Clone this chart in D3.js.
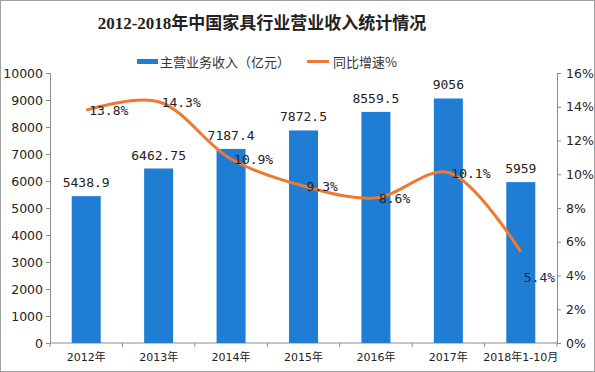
<!DOCTYPE html>
<html>
<head>
<meta charset="utf-8">
<script src="https://cdn.jsdelivr.net/npm/d3@7"></script>
<style>
  body { margin: 0; background: #fff; }
  svg { display: block; }
</style>
</head>
<body>
<div id="chart"></div>
<script>
// Data
const years = ["2012年", "2013年", "2014年", "2015年", "2016年", "2017年", "2018年1-10月"];
const revenue = [5438.9, 6462.75, 7187.4, 7872.5, 8559.5, 9056, 5959];
const revenueLabels = ["5438.9", "6462.75", "7187.4", "7872.5", "8559.5", "9056", "5959"];
const growth = [13.8, 14.3, 10.9, 9.3, 8.6, 10.1, 5.4];
const growthLabels = ["13.8%", "14.3%", "10.9%", "9.3%", "8.6%", "10.1%", "5.4%"];
const leftTicks = [0, 1000, 2000, 3000, 4000, 5000, 6000, 7000, 8000, 9000, 10000];
const rightTicks = [0, 2, 4, 6, 8, 10, 12, 14, 16];

// Dimensions
const width = 595, height = 372;
const margin = {top: 73, right: 38, bottom: 29, left: 50};
const innerW = width - margin.left - margin.right;
const innerH = height - margin.top - margin.bottom;

const svg = d3.select("#chart").append("svg")
  .attr("width", width)
  .attr("height", height);

// frame
svg.append("rect")
  .attr("x", 0.5).attr("y", 0.5)
  .attr("width", width - 1).attr("height", height - 1)
  .attr("fill", "#fff").attr("stroke", "#a0a0a0");

// Title
svg.append("text")
  .attr("x", 262).attr("y", 29)
  .attr("text-anchor", "middle")
  .style("font-family", "'Liberation Serif', 'Noto Sans CJK SC', serif")
  .style("font-weight", "bold")
  .style("font-size", "17px")
  .attr("fill", "#222")
  .text("2012-2018年中国家具行业营业收入统计情况");

// Legend
const legend = svg.append("g").style("font-family", "'Noto Sans CJK SC', sans-serif").style("font-size", "13px");
legend.append("rect").attr("x", 137).attr("y", 59).attr("width", 21).attr("height", 5).attr("fill", "#1f7dd3");
legend.append("text").attr("x", 160).attr("y", 66.5).attr("fill", "#333").text("主营业务收入（亿元）");
legend.append("line").attr("x1", 307).attr("x2", 329).attr("y1", 61.5).attr("y2", 61.5)
  .attr("stroke", "#ec7a32").attr("stroke-width", 3);
legend.append("text").attr("x", 333).attr("y", 66.5).attr("fill", "#333").text("同比增速%");

const g = svg.append("g").attr("transform", `translate(${margin.left},${margin.top})`);

// Scales
const x = d3.scaleBand().domain(years).range([0, innerW]);
const y = d3.scaleLinear().domain([0, 10000]).range([innerH, 0]);
const y2 = d3.scaleLinear().domain([0, 16]).range([innerH, 0]);

// Axes
const axisColor = "#8c8c8c";
const leftAxis = g.append("g")
  .call(d3.axisLeft(y).tickValues(leftTicks).tickSize(4).tickPadding(3).tickFormat(d3.format("d")));
const rightAxis = g.append("g")
  .attr("transform", `translate(${innerW},0)`)
  .call(d3.axisRight(y2).tickValues(rightTicks).tickSize(4).tickPadding(5).tickFormat(d => d + "%"));
[leftAxis, rightAxis].forEach(a => {
  a.select(".domain").attr("stroke", axisColor);
  a.selectAll(".tick line").attr("stroke", axisColor);
  a.selectAll("text").attr("fill", "#222")
    .style("font-family", "'DejaVu Sans', sans-serif").style("font-size", "12.5px");
});

// bottom axis: ticks at band boundaries
const bottom = g.append("g").attr("transform", `translate(0,${innerH})`);
bottom.append("line").attr("x1", 0).attr("x2", innerW).attr("stroke", axisColor);
bottom.selectAll(".bt").data(d3.range(years.length + 1)).join("line")
  .attr("x1", i => i * x.step()).attr("x2", i => i * x.step())
  .attr("y1", 0).attr("y2", 4).attr("stroke", axisColor);
bottom.selectAll(".bl").data(years).join("text")
  .attr("x", d => x(d) + x.bandwidth() / 2)
  .attr("y", 18)
  .attr("text-anchor", "middle")
  .style("font-family", "'DejaVu Sans', 'Noto Sans CJK SC', sans-serif")
  .style("font-size", "11px")
  .attr("fill", "#222")
  .text(d => d);

// Bars
const barW = 29;
g.selectAll(".bar").data(revenue).join("rect")
  .attr("x", (d, i) => x(years[i]) + x.bandwidth() / 2 - barW / 2)
  .attr("y", d => y(d))
  .attr("width", barW)
  .attr("height", d => innerH - y(d))
  .attr("fill", "#1f7dd3");

// Bar labels
g.selectAll(".blab").data(revenue).join("text")
  .attr("x", (d, i) => x(years[i]) + x.bandwidth() / 2)
  .attr("y", d => y(d) - 9)
  .attr("text-anchor", "middle")
  .style("font-family", "'DejaVu Sans Mono', monospace")
  .style("font-size", "13px")
  .attr("fill", "#222")
  .text((d, i) => revenueLabels[i]);

// Growth line
const line = d3.line()
  .x((d, i) => x(years[i]) + x.bandwidth() / 2)
  .y(d => y2(d))
  .curve(d3.curveCatmullRom.alpha(0.5));
g.append("path")
  .datum(growth)
  .attr("fill", "none")
  .attr("stroke", "#ec7a32")
  .attr("stroke-width", 3)
  .attr("d", line);

// Growth labels
g.selectAll(".glab").data(growth).join("text")
  .attr("x", (d, i) => x(years[i]) + x.bandwidth() / 2 + 3)
  .attr("y", (d, i) => y2(d) + (i === growth.length - 1 ? 30 : 5))
  .style("font-family", "'DejaVu Sans Mono', monospace")
  .style("font-size", "13px")
  .attr("fill", (d, i) => i === growth.length - 1 ? "#1a2a55" : "#222")
  .text((d, i) => growthLabels[i]);
</script>
</body>
</html>
